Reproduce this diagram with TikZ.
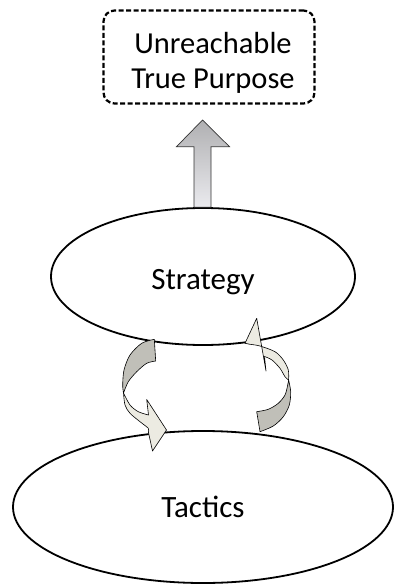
\documentclass[tikz,border=0pt]{standalone}
\usepackage{fontspec}
\setmainfont{Carlito}
\usetikzlibrary{shapes.geometric,calc}
\definecolor{backgray}{RGB}{192,191,184}
\definecolor{frontlight}{RGB}{236,235,226}
\definecolor{arrowtop}{RGB}{176,176,178}
\definecolor{arrowbot}{RGB}{234,234,238}
\begin{document}
\begin{tikzpicture}[x=1pt,y=-1pt,
  boxlbl/.style={font=\fontsize{30.5}{35}\selectfont},
  ovallbl/.style={font=\fontsize{31}{37}\selectfont},
  oval/.style={ellipse, draw=black, line width=1.8pt, fill=white, inner sep=0pt, ovallbl},
  goalbox/.style={draw=black, dash pattern=on 5pt off 2.5pt, line width=2.2pt,
    rounded corners=11pt, align=center, inner sep=0pt, minimum width=211pt,
    minimum height=93pt, boxlbl},
  backface/.style={fill=backgray, draw=black, line width=0.6pt, line join=round},
  frontface/.style={fill=frontlight, draw=black, line width=0.6pt, line join=round},
  bigarrow/.style={top color=arrowtop, bottom color=arrowbot, draw=black!80, line width=0.7pt}]
\useasboundingbox (0,0) rectangle (393,585);

\node[goalbox] (goal) at (209,57) {\hspace*{8pt}\raisebox{-6.8pt}[\height][\depth]{\begin{tabular}{@{}c@{}}Unreachable\\True Purpose\end{tabular}}};
\node[oval, minimum width=304pt, minimum height=137pt] (strategy) at (203,276.5) {\raisebox{-2.5pt}[\height][0pt]{Strategy}};
\node[oval, minimum width=380pt, minimum height=152pt] (tactics) at (203,507) {Tactics};

% upward block arrow from Strategy towards the goal
\coordinate (tip) at (202.5,120);
\shade[bigarrow] (strategy.north -| 194,0) -- (194,146.7) -- (176.5,146.7) -- (tip)
  -- (229.5,146.7) -- (211,146.7) -- (strategy.north -| 211,0) -- cycle;

% left curved arrow (Strategy -> Tactics)
\filldraw[backface] plot[smooth] coordinates {(154.3,339.3) (141.7,343.3) (130,355) (124,370) (122.7,385) (123.5,393)}
  -- plot[smooth] coordinates {(123.5,393) (128.3,381.7) (136.7,371.7) (146.7,363.3) (155.7,361)} -- cycle;
\filldraw[frontface] (166.5,430) -- (152.5,451) -- (148.3,431.7)
  -- plot[smooth] coordinates {(148.3,431.7) (148.3,428.3) (140,421.7) (130,413.3) (125,405) (123.5,393)}
  -- plot[smooth] coordinates {(123.5,393) (130,405) (138.3,411.7) (148.5,415)}
  -- (146.7,399.5) -- cycle;

% right curved arrow (Tactics -> Strategy)
\filldraw[backface] plot[smooth] coordinates {(256.7,411.7) (268.3,409.3) (278.3,403.3) (285,395) (287.7,385) (288.6,380)}
  -- plot[smooth] coordinates {(288.6,380) (290.7,391.7) (289.3,405) (283.3,416.7) (273.3,426) (260,431.7)} -- cycle;
\filldraw[frontface] (256.7,318.3) -- (245,343.3) -- (250,344.3)
  -- plot[smooth] coordinates {(250,344.3) (260,346) (275,351.7) (283.3,360) (288.3,370) (288.6,380)}
  -- plot[smooth] coordinates {(288.6,380) (285,376.7) (280,368.3) (272,360) (264.5,356.5)}
  -- (266,371) -- cycle;
\end{tikzpicture}
\end{document}
